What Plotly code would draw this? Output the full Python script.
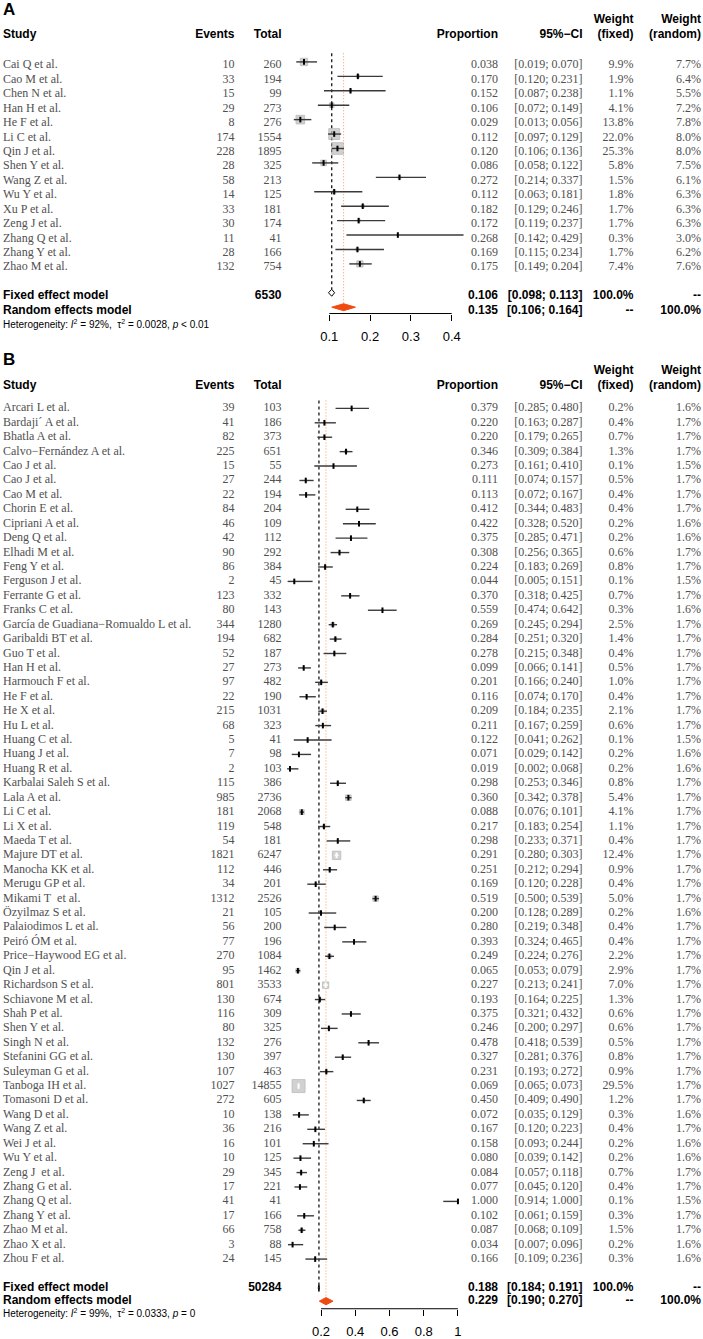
import math
import plotly.graph_objects as go

# ------------------------------------------------------------------ data: panel A
a_study = ["Cai Q et al.", "Cao M et al.", "Chen N et al.", "Han H et al.", "He F et al.",
           "Li C et al.", "Qin J et al.", "Shen Y et al.", "Wang Z et al.", "Wu Y et al.",
           "Xu P et al.", "Zeng J et al.", "Zhang Q et al.", "Zhang Y et al.", "Zhao M et al."]
a_events = [10, 33, 15, 29, 8, 174, 228, 28, 58, 14, 33, 30, 11, 28, 132]
a_total = [260, 194, 99, 273, 276, 1554, 1895, 325, 213, 125, 181, 174, 41, 166, 754]
a_prop = [0.038, 0.170, 0.152, 0.106, 0.029, 0.112, 0.120, 0.086, 0.272, 0.112, 0.182, 0.172, 0.268, 0.169, 0.175]
a_lower = [0.019, 0.120, 0.087, 0.072, 0.013, 0.097, 0.106, 0.058, 0.214, 0.063, 0.129, 0.119, 0.142, 0.115, 0.149]
a_upper = [0.070, 0.231, 0.238, 0.149, 0.056, 0.129, 0.136, 0.122, 0.337, 0.181, 0.246, 0.237, 0.429, 0.234, 0.204]
a_w_fixed = [9.9, 1.9, 1.1, 4.1, 13.8, 22.0, 25.3, 5.8, 1.5, 1.8, 1.7, 1.7, 0.3, 1.7, 7.4]
a_w_random = [7.7, 6.4, 5.5, 7.2, 7.8, 8.0, 8.0, 7.5, 6.1, 6.3, 6.3, 6.3, 3.0, 6.2, 7.6]
a_fixed = [0.106, 0.098, 0.113]      # estimate, lower, upper
a_random = [0.135, 0.106, 0.164]
a_n_total = 6530
a_i2, a_tau2, a_p = "92%", "0.0028", "&lt; 0.01"
a_ticks = [0.1, 0.2, 0.3, 0.4]
a_ticklabels = ["0.1", "0.2", "0.3", "0.4"]

# ------------------------------------------------------------------ data: panel B
b_study = ["Arcari L et al.", "Bardaji\u00b4 A et al.", "Bhatla A et al.", "Calvo\u2212Fernández A et al.",
           "Cao J et al.", "Cao J et al.", "Cao M et al.", "Chorin E et al.", "Cipriani A et al.",
           "Deng Q et al.", "Elhadi M et al.", "Feng Y et al.", "Ferguson J et al.", "Ferrante G et al.",
           "Franks C et al.", "García de Guadiana\u2212Romualdo L et al.", "Garibaldi BT et al.",
           "Guo T et al.", "Han H et al.", "Harmouch F et al.", "He F et al.", "He X et al.",
           "Hu L et al.", "Huang C et al.", "Huang J et al.", "Huang R et al.",
           "Karbalai Saleh S et al.", "Lala A et al.", "Li C et al.", "Li X et al.", "Maeda T et al.",
           "Majure DT et al.", "Manocha KK et al.", "Merugu GP et al.", "Mikami T\u00a0 et al.",
           "Özyilmaz S et al.", "Palaiodimos L et al.", "Peiró ÓM et al.",
           "Price\u2212Haywood EG et al.", "Qin J et al.", "Richardson S et al.", "Schiavone M et al.",
           "Shah P et al.", "Shen Y et al.", "Singh N et al.", "Stefanini GG et al.",
           "Suleyman G et al.", "Tanboga IH et al.", "Tomasoni D et al.", "Wang D et al.",
           "Wang Z et al.", "Wei J et al.", "Wu Y et al.", "Zeng J\u00a0 et al.", "Zhang G et al.",
           "Zhang Q et al.", "Zhang Y et al.", "Zhao M et al.", "Zhao X et al.", "Zhou F et al."]
b_events = [39, 41, 82, 225, 15, 27, 22, 84, 46, 42, 90, 86, 2, 123, 80, 344, 194, 52, 27, 97,
            22, 215, 68, 5, 7, 2, 115, 985, 181, 119, 54, 1821, 112, 34, 1312, 21, 56, 77, 270, 95,
            801, 130, 116, 80, 132, 130, 107, 1027, 272, 10, 36, 16, 10, 29, 17, 41, 17, 66, 3, 24]
b_total = [103, 186, 373, 651, 55, 244, 194, 204, 109, 112, 292, 384, 45, 332, 143, 1280, 682, 187,
           273, 482, 190, 1031, 323, 41, 98, 103, 386, 2736, 2068, 548, 181, 6247, 446, 201, 2526,
           105, 200, 196, 1084, 1462, 3533, 674, 309, 325, 276, 397, 463, 14855, 605, 138, 216, 101,
           125, 345, 221, 41, 166, 758, 88, 145]
b_prop = [0.379, 0.220, 0.220, 0.346, 0.273, 0.111, 0.113, 0.412, 0.422, 0.375, 0.308, 0.224,
          0.044, 0.370, 0.559, 0.269, 0.284, 0.278, 0.099, 0.201, 0.116, 0.209, 0.211, 0.122,
          0.071, 0.019, 0.298, 0.360, 0.088, 0.217, 0.298, 0.291, 0.251, 0.169, 0.519, 0.200,
          0.280, 0.393, 0.249, 0.065, 0.227, 0.193, 0.375, 0.246, 0.478, 0.327, 0.231, 0.069,
          0.450, 0.072, 0.167, 0.158, 0.080, 0.084, 0.077, 1.000, 0.102, 0.087, 0.034, 0.166]
b_lower = [0.285, 0.163, 0.179, 0.309, 0.161, 0.074, 0.072, 0.344, 0.328, 0.285, 0.256, 0.183,
           0.005, 0.318, 0.474, 0.245, 0.251, 0.215, 0.066, 0.166, 0.074, 0.184, 0.167, 0.041,
           0.029, 0.002, 0.253, 0.342, 0.076, 0.183, 0.233, 0.280, 0.212, 0.120, 0.500, 0.128,
           0.219, 0.324, 0.224, 0.053, 0.213, 0.164, 0.321, 0.200, 0.418, 0.281, 0.193, 0.065,
           0.409, 0.035, 0.120, 0.093, 0.039, 0.057, 0.045, 0.914, 0.061, 0.068, 0.007, 0.109]
b_upper = [0.480, 0.287, 0.265, 0.384, 0.410, 0.157, 0.167, 0.483, 0.520, 0.471, 0.365, 0.269,
           0.151, 0.425, 0.642, 0.294, 0.320, 0.348, 0.141, 0.240, 0.170, 0.235, 0.259, 0.262,
           0.142, 0.068, 0.346, 0.378, 0.101, 0.254, 0.371, 0.303, 0.294, 0.228, 0.539, 0.289,
           0.348, 0.465, 0.276, 0.079, 0.241, 0.225, 0.432, 0.297, 0.539, 0.376, 0.272, 0.073,
           0.490, 0.129, 0.223, 0.244, 0.142, 0.118, 0.120, 1.000, 0.159, 0.109, 0.096, 0.236]
b_w_fixed = [0.2, 0.4, 0.7, 1.3, 0.1, 0.5, 0.4, 0.4, 0.2, 0.2, 0.6, 0.8, 0.1, 0.7, 0.3, 2.5, 1.4,
             0.4, 0.5, 1.0, 0.4, 2.1, 0.6, 0.1, 0.2, 0.2, 0.8, 5.4, 4.1, 1.1, 0.4, 12.4, 0.9, 0.4,
             5.0, 0.2, 0.4, 0.4, 2.2, 2.9, 7.0, 1.3, 0.6, 0.6, 0.5, 0.8, 0.9, 29.5, 1.2, 0.3, 0.4,
             0.2, 0.2, 0.7, 0.4, 0.1, 0.3, 1.5, 0.2, 0.3]
b_w_random = [1.6, 1.7, 1.7, 1.7, 1.5, 1.7, 1.7, 1.7, 1.6, 1.6, 1.7, 1.7, 1.5, 1.7, 1.6, 1.7, 1.7,
              1.7, 1.7, 1.7, 1.7, 1.7, 1.7, 1.5, 1.6, 1.6, 1.7, 1.7, 1.7, 1.7, 1.7, 1.7, 1.7, 1.7,
              1.7, 1.6, 1.7, 1.7, 1.7, 1.7, 1.7, 1.7, 1.7, 1.7, 1.7, 1.7, 1.7, 1.7, 1.7, 1.6, 1.7,
              1.6, 1.6, 1.7, 1.7, 1.5, 1.7, 1.7, 1.6, 1.6]
b_fixed = [0.188, 0.184, 0.191]
b_random = [0.229, 0.190, 0.270]
b_n_total = 50284
b_i2, b_tau2, b_p = "99%", "0.0333", "= 0"
b_ticks = [0.2, 0.4, 0.6, 0.8, 1.0]
b_ticklabels = ["0.2", "0.4", "0.6", "0.8", "1"]

# ------------------------------------------------------------------ layout geometry (pixels)
W, H = 703, 1339
COL_X = dict(study=3, events=234.5, total=281.5, prop=498, ci=582.5, wf=633.5, wr=701)

GEOM = {
    "A": dict(row0=62.0, step=14.45, text_off=0.24, ref_val=0.1, ref_px=329.3, ppu=408.0,
              dom=(283, 472), axis_px=314.0, label_px=11, weight_px=20, head_px=35,
              fixed_row=16, random_row=17, het_row=18.05, vtop=-0.6, sq_max=11.7, dia_h=0.24,
              ya="y", xa="x2"),
    "B": dict(row0=409.0, step=14.44, text_off=0.0, ref_val=0.2, ref_px=321.0, ppu=171.2,
              dom=(283, 466), axis_px=1310.7, label_px=361.7, weight_px=371.7, head_px=386.7,
              fixed_row=61, random_row=61.92, het_row=62.85, vtop=-0.55, sq_max=13.0, dia_h=0.25,
              ya="y2", xa="x3"),
}

SERIF = dict(family="Liberation Serif", size=12, color="#505050")
BOLD = dict(family="Liberation Sans", size=12, color="black", weight="bold")
HETF = dict(family="Liberation Sans", size=10, color="black")
LABELF = dict(family="Liberation Sans", size=17, color="black", weight="bold")
LINE_COL = "#3a3a3a"
SQ_FILL = "#BEBEBE"
SQ_EDGE = "#A0A0A0"
RANDOM_COL = "#F04A10"
RANDOM_LINE = "#F39A62"

fig = go.Figure()


def txt(x, y, text, pos, font, ya):
    fig.add_trace(go.Scatter(x=x, y=y, text=text, mode="text", textposition=pos, textfont=font,
                             xaxis="x", yaxis=ya, hoverinfo="skip", cliponaxis=False,
                             showlegend=False))


def pxrow(g, px):
    return (px - g["row0"]) / g["step"]


def pct(v):
    return f"{v:.1f}%"


def ci(lo, hi):
    return f"[{lo:.3f}; {hi:.3f}]"


def add_panel(key, label, study, events, total, prop, lower, upper, wf, wr, fixed, random,
              n_total, i2, tau2, pval, ticks, ticklabels):
    g = GEOM[key]
    ya, xa = g["ya"], g["xa"]
    n = len(study)
    rows = list(range(n))
    trow = [r + g["text_off"] for r in rows]

    # --- header
    txt([COL_X["study"]], [pxrow(g, g["label_px"])], [label], "middle right", LABELF, ya)
    hr = pxrow(g, g["head_px"])
    wrw = pxrow(g, g["weight_px"])
    txt([COL_X["study"]], [hr], ["Study"], "middle right", BOLD, ya)
    txt([COL_X["events"], COL_X["total"], COL_X["prop"], COL_X["ci"], COL_X["wf"], COL_X["wr"],
         COL_X["wf"], COL_X["wr"]],
        [hr, hr, hr, hr, hr, hr, wrw, wrw],
        ["Events", "Total", "Proportion", "95%\u2212CI", "(fixed)", "(random)", "Weight", "Weight"],
        "middle left", BOLD, ya)

    # --- study rows
    txt([COL_X["study"]] * n, trow, study, "middle right", SERIF, ya)
    txt([COL_X["events"]] * n, trow, [str(v) for v in events], "middle left", SERIF, ya)
    txt([COL_X["total"]] * n, trow, [str(v) for v in total], "middle left", SERIF, ya)
    txt([COL_X["prop"]] * n, trow, [f"{v:.3f}" for v in prop], "middle left", SERIF, ya)
    txt([COL_X["ci"]] * n, trow, [ci(l, h) for l, h in zip(lower, upper)], "middle left", SERIF, ya)
    txt([COL_X["wf"]] * n, trow, [pct(v) for v in wf], "middle left", SERIF, ya)
    txt([COL_X["wr"]] * n, trow, [pct(v) for v in wr], "middle left", SERIF, ya)

    # --- summary rows
    fr = g["fixed_row"] + g["text_off"]
    rr = g["random_row"] + g["text_off"]
    txt([COL_X["study"]] * 2, [fr, rr], ["Fixed effect model", "Random effects model"],
        "middle right", BOLD, ya)
    txt([COL_X["total"]], [fr], [str(n_total)], "middle left", BOLD, ya)
    txt([COL_X["prop"]] * 2, [fr, rr], [f"{fixed[0]:.3f}", f"{random[0]:.3f}"], "middle left", BOLD, ya)
    txt([COL_X["ci"]] * 2, [fr, rr], [ci(fixed[1], fixed[2]), ci(random[1], random[2])],
        "middle left", BOLD, ya)
    txt([COL_X["wf"]] * 2, [fr, rr], ["100.0%", "--"], "middle left", BOLD, ya)
    txt([COL_X["wr"]] * 2, [fr, rr], ["--", "100.0%"], "middle left", BOLD, ya)
    het = (f"Heterogeneity: <i>I</i><sup>2</sup> = {i2},  \u03c4<sup>2</sup> = {tau2}, "
           f"<i>p</i> {pval}")
    txt([COL_X["study"]], [g["het_row"] + g["text_off"]], [het], "middle right", HETF, ya)

    # --- forest: reference lines
    fig.add_trace(go.Scatter(x=[fixed[0], fixed[0]], y=[g["vtop"], g["fixed_row"] - g["dia_h"]],
                             mode="lines", line=dict(color="black", width=1.2, dash="3px,3px"),
                             xaxis=xa, yaxis=ya, hoverinfo="skip", showlegend=False))
    fig.add_trace(go.Scatter(x=[random[0], random[0]], y=[g["vtop"], g["random_row"] - g["dia_h"]],
                             mode="lines", line=dict(color=RANDOM_LINE, width=1, dash="1px,2px"),
                             xaxis=xa, yaxis=ya, hoverinfo="skip", showlegend=False))

    # --- squares (area proportional to fixed weight)
    wmax = max(wf)
    sizes = [g["sq_max"] * math.sqrt(w / wmax) for w in wf]
    fig.add_trace(go.Scatter(x=prop, y=rows, mode="markers",
                             marker=dict(symbol="square", size=sizes, color=SQ_FILL,
                                         line=dict(color=SQ_EDGE, width=0.8)),
                             xaxis=xa, yaxis=ya, hoverinfo="skip", showlegend=False))

    # --- CI lines (white when the interval lies inside a large square)
    inside = [(s >= 6 and (h - l) * g["ppu"] < s) for s, l, h in zip(sizes, lower, upper)]
    for flag, col in ((False, LINE_COL), (True, "white")):
        xs, ys, cx, cy = [], [], [], []
        for r, p, l, h, f in zip(rows, prop, lower, upper, inside):
            if f == flag:
                xs += [l, h, None]
                ys += [r, r, None]
                cx.append(p)
                cy.append(r)
        if not cx:
            continue
        fig.add_trace(go.Scatter(x=xs, y=ys, mode="lines", line=dict(color=col, width=1.4),
                                 xaxis=xa, yaxis=ya, hoverinfo="skip", showlegend=False))
        fig.add_trace(go.Scatter(x=cx, y=cy, mode="markers",
                                 marker=dict(symbol="line-ns", size=4,
                                             line=dict(color="black" if not flag else "white", width=2)),
                                 xaxis=xa, yaxis=ya, hoverinfo="skip", showlegend=False))

    # --- diamonds
    for est, lo, hi, row, fill, edge in ((fixed[0], fixed[1], fixed[2], g["fixed_row"], "white", "black"),
                                         (random[0], random[1], random[2], g["random_row"], RANDOM_COL, RANDOM_COL)):
        h = g["dia_h"]
        fig.add_trace(go.Scatter(x=[lo, est, hi, est, lo], y=[row, row - h, row, row + h, row],
                                 mode="lines", fill="toself", fillcolor=fill,
                                 line=dict(color=edge, width=1), xaxis=xa, yaxis=ya,
                                 hoverinfo="skip", showlegend=False))

    # --- axis line (ticks come from the plotly axis)
    arow = pxrow(g, g["axis_px"])
    fig.add_trace(go.Scatter(x=[ticks[0], ticks[-1]], y=[arow, arow], mode="lines",
                             line=dict(color="black", width=1), xaxis=xa, yaxis=ya,
                             hoverinfo="skip", showlegend=False))

    d0, d1 = g["dom"]
    axis_cfg = dict(domain=[d0 / W, d1 / W],
                    range=[g["ref_val"] + (d0 - g["ref_px"]) / g["ppu"],
                           g["ref_val"] + (d1 - g["ref_px"]) / g["ppu"]],
                    anchor="free", position=1 - g["axis_px"] / H,
                    showgrid=False, zeroline=False, showline=False,
                    ticks="outside", ticklen=6, tickwidth=1, tickcolor="black",
                    tickmode="array", tickvals=ticks, ticktext=ticklabels,
                    tickfont=dict(family="Liberation Sans", size=13, color="black"),
                    ticklabelstandoff=5, fixedrange=True)
    yaxis_cfg = dict(domain=[0, 1], range=[(H - g["row0"]) / g["step"], -g["row0"] / g["step"]],
                     visible=False, fixedrange=True)
    return axis_cfg, yaxis_cfg


xa2, ya1 = add_panel("A", "A", a_study, a_events, a_total, a_prop, a_lower, a_upper, a_w_fixed,
                     a_w_random, a_fixed, a_random, a_n_total, a_i2, a_tau2, a_p, a_ticks, a_ticklabels)
xa3, ya2 = add_panel("B", "B", b_study, b_events, b_total, b_prop, b_lower, b_upper, b_w_fixed,
                     b_w_random, b_fixed, b_random, b_n_total, b_i2, b_tau2, b_p, b_ticks, b_ticklabels)

fig.update_layout(
    width=W, height=H, margin=dict(l=0, r=0, t=0, b=0),
    paper_bgcolor="white", plot_bgcolor="rgba(0,0,0,0)", showlegend=False,
    xaxis=dict(domain=[0, 1], range=[0, W], visible=False, fixedrange=True),
    xaxis2=xa2, xaxis3=xa3, yaxis=ya1, yaxis2=ya2,
)

fig.write_html("out.html", config={"displayModeBar": False, "staticPlot": True},
               post_script="document.body.style.margin='0';")
